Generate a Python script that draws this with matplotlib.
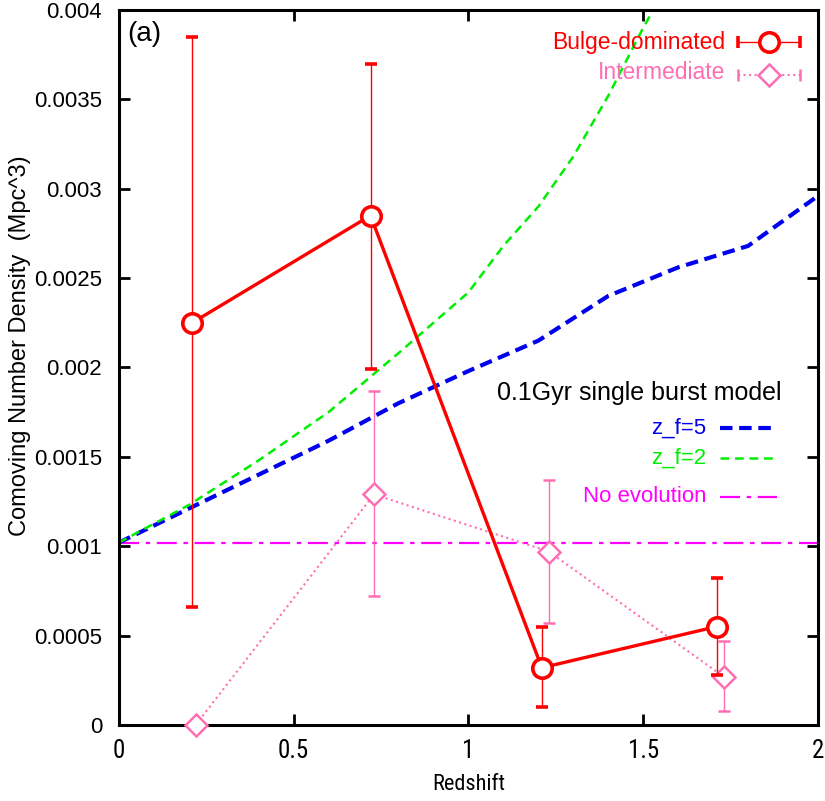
import matplotlib.pyplot as plt
import numpy as np

plt.rcParams['font.family'] = ['Liberation Sans', 'DejaVu Sans']

# observed data
bulge_z = [0.21, 0.72, 1.21, 1.71]
bulge_n = [0.00225, 0.00285, 0.00032, 0.00055]
bulge_lo = [0.00066, 0.00199, 0.00010, 0.00028]
bulge_hi = [0.00385, 0.00370, 0.00055, 0.00082]

inter_z = [0.22, 0.73, 1.23, 1.73]
inter_n = [0.0, 0.00129, 0.00097, 0.00027]
inter_lo = [0.0, 0.00072, 0.00057, 0.00008]
inter_hi = [0.0, 0.00187, 0.00137, 0.00047]

# model curves
zf5_z = [0.0, 0.2, 0.4, 0.6, 0.8, 1.0, 1.2, 1.4, 1.6, 1.8, 2.0]
zf5_n = [0.00102, 0.00121, 0.00140, 0.00159, 0.00180, 0.00198, 0.00215, 0.00240, 0.00256, 0.00268, 0.00296]
zf2_z = [0.0, 0.2, 0.4, 0.6, 0.8, 1.0, 1.1, 1.2, 1.3, 1.4, 1.5, 1.6]
zf2_n = [0.00102, 0.00123, 0.00148, 0.00175, 0.00208, 0.00242, 0.00268, 0.00290, 0.00318, 0.00352, 0.00390, 0.00425]
noev = 0.00102

red = '#ff0000'
pink = '#ff6eb4'
blue = '#0000ee'
green = '#00ee00'
magenta = '#ff00ff'
dash5 = (0, (3, 1.6))
dash2 = (0, (3.5, 2.3))
dashdot = (0, (9, 3, 2, 3))
narrow = ['Liberation Sans Narrow', 'Roboto Condensed', 'Liberation Sans', 'DejaVu Sans']

fig = plt.figure(figsize=(8.25, 8.01), dpi=100)
ax = fig.add_axes([0.144, 0.095, 0.8475, 0.8925])

ax.axhline(noev, color=magenta, linestyle=dashdot, linewidth=1.6)
ax.plot(zf5_z, zf5_n, color=blue, linestyle=dash5, linewidth=3.0)
ax.plot(zf2_z, zf2_n, color=green, linestyle=dash2, linewidth=1.8)

b_err = [np.array(bulge_n) - np.array(bulge_lo), np.array(bulge_hi) - np.array(bulge_n)]
i_err = [np.array(inter_n) - np.array(inter_lo), np.array(inter_hi) - np.array(inter_n)]

eb = ax.errorbar(inter_z, inter_n, yerr=i_err, color=pink, linestyle=':', linewidth=1.5,
                 marker='D', markersize=11, markerfacecolor='white', markeredgecolor=pink,
                 markeredgewidth=1.8, ecolor=pink, elinewidth=1.0, capsize=4, capthick=0.8, zorder=3)
eb.lines[0].set_clip_on(False)
ax.errorbar(bulge_z, bulge_n, yerr=b_err, color=red, linestyle='-', linewidth=2.4,
            marker='o', markersize=14, markerfacecolor='white', markeredgecolor=red,
            markeredgewidth=2.6, ecolor=red, elinewidth=1.0, capsize=4, capthick=0.8, zorder=4)

ax.set_xlim(0, 2)
ax.set_ylim(0, 0.004)
ax.set_xticks([0, 0.5, 1, 1.5, 2])
ax.set_xticklabels(['0', '0.5', '1', '1.5', '2'], fontsize=18, family=narrow)
ax.set_yticks([0, 0.0005, 0.001, 0.0015, 0.002, 0.0025, 0.003, 0.0035, 0.004])
ax.set_yticklabels(['0', '0.0005', '0.001', '0.0015', '0.002', '0.0025', '0.003', '0.0035', '0.004'], fontsize=16)
ax.tick_params(direction='in', length=8, width=2, top=True, right=True)
ax.tick_params(axis='y', pad=12)
ax.tick_params(axis='x', pad=10)
for s in ax.spines.values():
    s.set_linewidth(2.2)

ax.set_xlabel('Redshift', fontsize=16, family=narrow, labelpad=8)
ax.set_ylabel('Comoving Number Density  (Mpc^3)', fontsize=17)
ax.yaxis.set_label_coords(-0.126, 0.53)

ax.text(0.012, 0.985, '(a)', transform=ax.transAxes, fontsize=20, va='top', ha='left')

# data legend
ax.text(0.867, 0.955, 'Bulge-dominated', transform=ax.transAxes, color=red, fontsize=16.5, ha='right', va='center')
ax.text(0.867, 0.913, 'Intermediate', transform=ax.transAxes, color=pink, fontsize=16.5, ha='right', va='center')
ax.errorbar([1.86], [0.00382], xerr=[0.088], color=red, marker='o', markersize=14,
            markerfacecolor='white', markeredgecolor=red, markeredgewidth=2.6,
            elinewidth=1.0, capsize=4, capthick=0.8, clip_on=False, zorder=5)
ax.plot([1.772, 1.948], [0.003636, 0.003636], color=pink, linestyle=':', linewidth=1.5, zorder=5)
ax.errorbar([1.86], [0.003636], xerr=[0.088], color=pink, marker='D', markersize=11,
            markerfacecolor='white', markeredgecolor=pink, markeredgewidth=1.8,
            elinewidth=0, capsize=4, capthick=0.8, clip_on=False, zorder=5)

# model legend
ax.text(0.948, 0.464, '0.1Gyr single burst model', transform=ax.transAxes,
        fontsize=18, ha='right', va='center')
ax.text(0.840, 0.415, 'z_f=5', transform=ax.transAxes, color=blue, fontsize=16, ha='right', va='center')
ax.text(0.840, 0.373, 'z_f=2', transform=ax.transAxes, color=green, fontsize=16, ha='right', va='center')
ax.text(0.840, 0.319, 'No evolution', transform=ax.transAxes, color=magenta, fontsize=16, ha='right', va='center')
ax.plot([0.86, 0.941], [0.415, 0.415], transform=ax.transAxes, color=blue, linestyle=dash5, linewidth=3.0)
ax.plot([0.86, 0.941], [0.373, 0.373], transform=ax.transAxes, color=green, linestyle=dash2, linewidth=1.8)
ax.plot([0.86, 0.941], [0.319, 0.319], transform=ax.transAxes, color=magenta, linestyle=dashdot, linewidth=1.6)

fig.savefig('out.png', dpi=100)
